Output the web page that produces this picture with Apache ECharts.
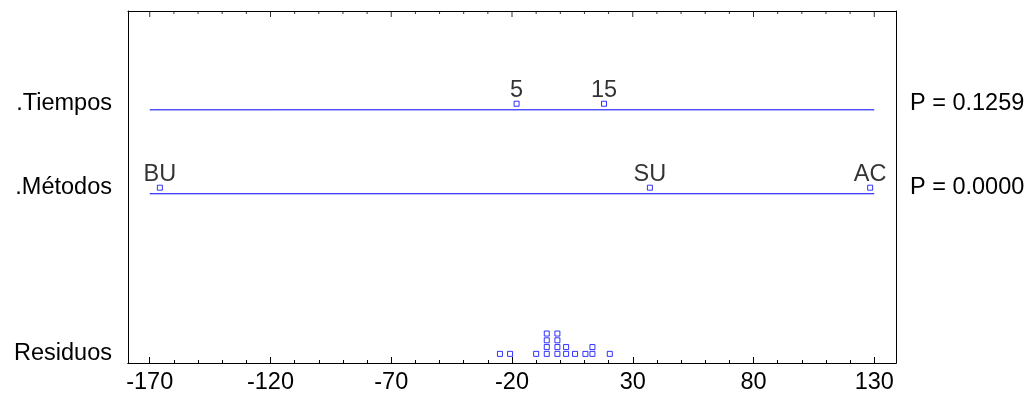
<!DOCTYPE html>
<html>
<head>
<meta charset="utf-8">
<script src="https://cdn.jsdelivr.net/npm/echarts@6/dist/echarts.min.js"></script>
<style>
  html, body { margin: 0; padding: 0; background: #ffffff; }
  #chart { width: 1032px; height: 398px; }
</style>
</head>
<body>
<div id="chart"></div>
<script>
// Graphical ANOVA: factor effects and residuals on a common scale
const xTicks = [-170, -120, -70, -20, 30, 80, 130];

const tiemposLevels = ['5', '15'];
const tiemposEffects = [-18.1, 18.1];

const metodosLevels = ['BU', 'SU', 'AC'];
const metodosEffects = [-165.8, 37.1, 128.3];

const factorNames = ['.Tiempos', '.Métodos', 'Residuos'];
const pValues = ['P = 0.1259', 'P = 0.0000'];

const residuals = [-25, -20.8, -10, -5.6, -5.6, -5.6, -5.6, -1.2, -1.2, -1.2, -1.2,
                   2.4, 2.4, 6.1, 10.4, 13.3, 13.3, 20.5];

// ---- layout of the rows (vertical units of the hidden value axis) ----
const Y_MAX = 52;
const ROW_TIEMPOS = 37.4;
const ROW_METODOS = 25;
const ROW_RESID = 1.35;
const LIFT = 0.9;          // markers sit just above their line
const STACK = 1;           // vertical step for repeated residuals

const FONT = 'Liberation Sans, Arial, sans-serif';
const FS = 23.5;
const BLUE = '#0000ff';
const INK = '#000000';

const span = xTicks[xTicks.length - 1] - xTicks[0];
const xMin = xTicks[0] - 0.03 * span;
const xMax = xTicks[xTicks.length - 1] + 0.03 * span;
const minorStep = (xTicks[1] - xTicks[0]) / 5;
const minorTicks = [];
for (let v = xTicks[0] + minorStep; v < xTicks[xTicks.length - 1]; v += minorStep) {
  const r = Math.round(v * 100) / 100;
  if (xTicks.indexOf(r) < 0) minorTicks.push(r);
}

// stack repeated residual values like a dot plot
const seen = {};
const residualPoints = residuals.map(r => {
  const k = seen[r] || 0;
  seen[r] = k + 1;
  return [r, ROW_RESID + k * STACK];
});

const leftLabels = [
  { v: ROW_TIEMPOS + LIFT, t: factorNames[0] },
  { v: ROW_METODOS + LIFT, t: factorNames[1] },
  { v: ROW_RESID + 0.1, t: factorNames[2] }
];
const rightLabels = [
  { v: ROW_TIEMPOS + LIFT, t: pValues[0] },
  { v: ROW_METODOS + LIFT, t: pValues[1] }
];
function nearestText(list, v) {
  let best = list[0];
  list.forEach(e => { if (Math.abs(e.v - v) < Math.abs(best.v - v)) best = e; });
  return best.t;
}

const textStyle = { fontFamily: FONT, fontSize: FS, color: INK };

// frame edge along x: major ticks (optionally labelled) or minor ticks
function xAxisDef(position, ticks, len, withLabels) {
  return {
    type: 'value', position: position, min: xMin, max: xMax,
    axisLine: { show: true, onZero: false, lineStyle: { color: INK, width: 1 } },
    axisTick: ticks
      ? { show: true, inside: true, length: len, customValues: ticks,
          lineStyle: { color: INK, width: 1 } }
      : { show: false },
    axisLabel: withLabels
      ? Object.assign({ show: true, customValues: xTicks, margin: 8 }, textStyle)
      : { show: false },
    splitLine: { show: false }
  };
}

function yAxisDef(position, labels, margin) {
  return {
    type: 'value', position: position, min: 0, max: Y_MAX,
    axisLine: { show: true, onZero: false, lineStyle: { color: INK, width: 1 } },
    axisTick: { show: false }, splitLine: { show: false },
    axisLabel: Object.assign({
      show: true, margin: margin, customValues: labels.map(e => e.v),
      formatter: v => nearestText(labels, v)
    }, textStyle)
  };
}

// tick marks hanging down from the top edge of the frame
function topTicks(values, len) {
  return {
    type: 'scatter', xAxisIndex: 0, yAxisIndex: 0, silent: true, clip: false,
    data: values.map(v => [v, Y_MAX]),
    symbol: 'rect', symbolSize: [1, len], symbolOffset: [0, len / 2],
    itemStyle: { color: INK }
  };
}

const markerStyle = { color: '#ffffff', borderColor: BLUE, borderWidth: 1 };

function factorLine(row) {
  return {
    type: 'line', xAxisIndex: 0, yAxisIndex: 0, silent: true,
    data: [[xTicks[0], row], [xTicks[xTicks.length - 1], row]],
    symbol: 'none', lineStyle: { color: BLUE, width: 1 }
  };
}

function factorPoints(effects, names, row) {
  return {
    type: 'scatter', xAxisIndex: 0, yAxisIndex: 0, silent: true,
    data: effects.map((e, i) => ({ value: [e, row + LIFT], name: names[i] })),
    symbol: 'rect', symbolSize: 5, itemStyle: markerStyle,
    label: Object.assign({ show: true, position: 'top', distance: -2,
                           formatter: p => p.name }, textStyle)
  };
}

const chart = echarts.init(document.getElementById('chart'));
chart.setOption({
  animation: false,
  backgroundColor: '#ffffff',
  grid: { left: 128, right: 136, top: 11, bottom: 35 },
  xAxis: [
    xAxisDef('bottom', xTicks, 6, true),
    xAxisDef('bottom', minorTicks, 3, false),
    xAxisDef('top', null, 0, false)
  ],
  yAxis: [
    yAxisDef('left', leftLabels, 16),
    yAxisDef('right', rightLabels, 14)
  ],
  series: [
    topTicks(xTicks, 6),
    topTicks(minorTicks, 3),
    factorLine(ROW_TIEMPOS),
    factorLine(ROW_METODOS),
    factorPoints(tiemposEffects, tiemposLevels, ROW_TIEMPOS),
    factorPoints(metodosEffects, metodosLevels, ROW_METODOS),
    {
      type: 'scatter', xAxisIndex: 0, yAxisIndex: 0, silent: true,
      data: residualPoints, symbol: 'rect', symbolSize: 5, itemStyle: markerStyle
    }
  ]
});
</script>
</body>
</html>
